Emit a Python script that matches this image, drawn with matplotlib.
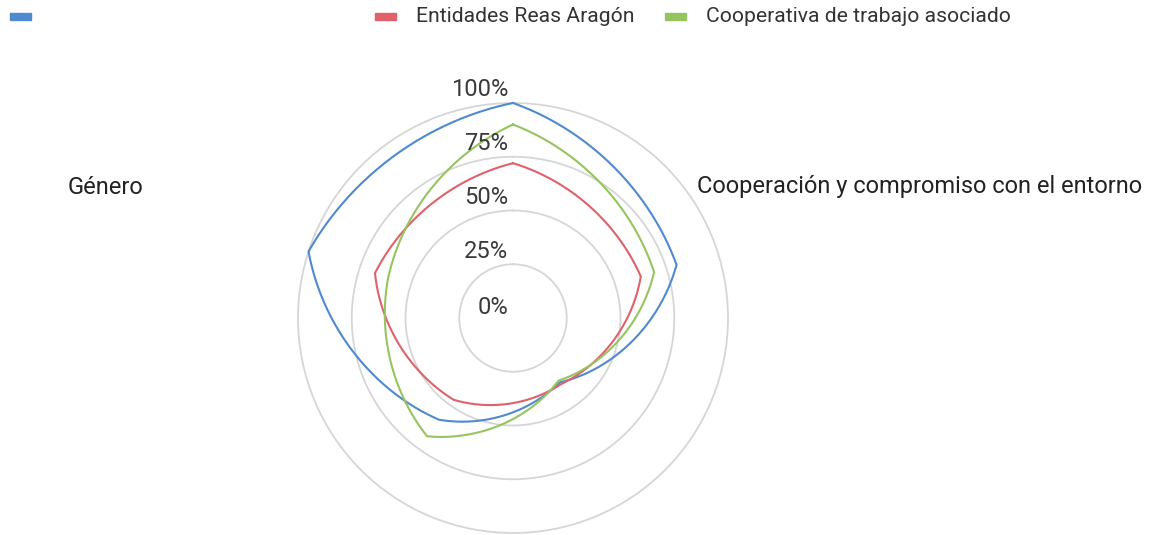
import numpy as np
import matplotlib
matplotlib.use("Agg")
import matplotlib.pyplot as plt
from matplotlib.patches import Rectangle
from matplotlib.transforms import offset_copy

# ---- data ----
categories = ["", "Cooperación y compromiso con el entorno", "", "", "Género"]
series_names = ["", "Entidades Reas Aragón", "Cooperativa de trabajo asociado"]
blue_vals = [100, 80, 37, 58.5, 100]
red_vals = [72, 62.5, 38, 47, 67.5]
green_vals = [90, 69, 36, 68, 61]
tick_values = [0, 25, 50, 75, 100]
tick_labels = ["0%", "25%", "50%", "75%", "100%"]
colors = ["#4f8ad0", "#e0616a", "#96c45f"]

W, H = 1149, 535
fig = plt.figure(figsize=(W / 100, H / 100), dpi=100)
cx, cy, R = 513, 318, 215
ax = fig.add_axes([(cx - R) / W, (H - cy - R) / H, 2 * R / W, 2 * R / H],
                  projection="polar")
ax.set_theta_offset(np.pi / 2)
ax.set_theta_direction(-1)
ax.set_ylim(0, 100)
ax.set_xticks([])
ax.set_rgrids([25, 50, 75, 100])
ax.set_yticklabels([])
ax.yaxis.grid(True, color="#d6d6d6", lw=1.3)
for gl in ax.yaxis.get_gridlines():
    gl.set_clip_on(False)
ax.spines["polar"].set_visible(False)

FONT = ["Roboto", "DejaVu Sans"]


def curve(vals, alpha=0.66, steps=80):
    n = len(vals)
    th = 2 * np.pi * np.arange(n) / n
    xs, ys = [], []
    s = np.linspace(0, 1, steps, endpoint=False)
    for i in range(n):
        j = (i + 1) % n
        t0 = th[i]
        t1 = th[i] + 2 * np.pi / n
        tt = t0 + (t1 - t0) * s
        rr = vals[i] + (vals[j] - vals[i]) * s
        px, py = rr * np.cos(tt), rr * np.sin(tt)
        x0, y0 = vals[i] * np.cos(t0), vals[i] * np.sin(t0)
        x1, y1 = vals[j] * np.cos(t1), vals[j] * np.sin(t1)
        qx, qy = x0 + (x1 - x0) * s, y0 + (y1 - y0) * s
        xs.append(alpha * px + (1 - alpha) * qx)
        ys.append(alpha * py + (1 - alpha) * qy)
    x = np.concatenate(xs + [[vals[0]]])
    y = np.concatenate(ys + [[0.0]])
    return np.unwrap(np.arctan2(y, x)), np.hypot(x, y)


for vals, col in zip([blue_vals, red_vals, green_vals], colors):
    t, r = curve(vals)
    ax.plot(t, r, color=col, lw=1.5, clip_on=False, solid_joinstyle="miter")

# radial tick labels
for v, lab in zip(tick_values, tick_labels):
    dy = 11 if v == 0 else 13
    tr = offset_copy(ax.transData, fig=fig, x=-5, y=dy, units="dots")
    ax.text(0, v, lab, transform=tr, ha="right", va="center",
            fontsize=17, color="#3a3a3a", family=FONT)

# category labels (only those visible)
fig.text(68 / W, 1 - 187 / H, categories[4], ha="left", va="center",
         fontsize=17, color="#222222", family=FONT)
fig.text(697 / W, 1 - 187 / H, categories[1], ha="left", va="center",
         fontsize=17, color="#222222", family=FONT)

# legend
leg_x = [10, 375, 665]
for name, col, lx in zip(series_names, colors, leg_x):
    fig.patches.append(Rectangle((lx / W, 1 - 20 / H), 21 / W, 7 / H,
                                 transform=fig.transFigure, color=col))
    if name:
        fig.text((lx + 41) / W, 1 - 17 / H, name, ha="left", va="center",
                 fontsize=15.2, color="#333333", family=FONT)

fig.savefig("out.png", dpi=100, facecolor="white")
